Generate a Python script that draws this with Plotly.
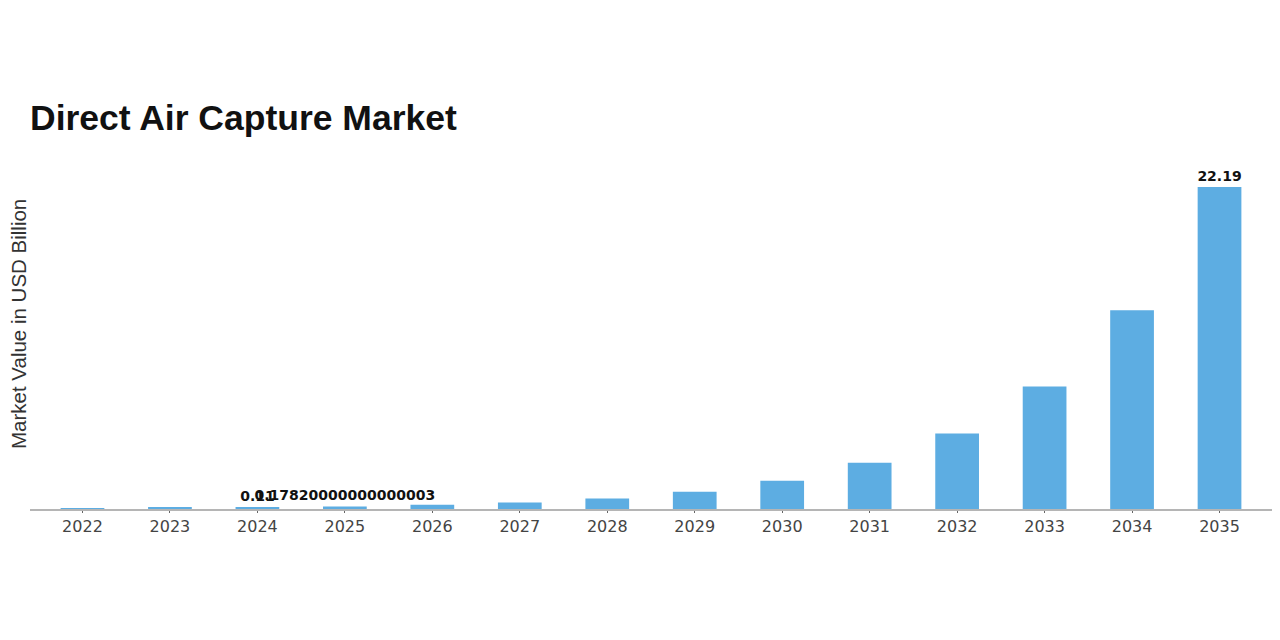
import plotly.graph_objects as go

years = ["2022", "2023", "2024", "2025", "2026", "2027", "2028",
         "2029", "2030", "2031", "2032", "2033", "2034", "2035"]
values = [0.04, 0.07, 0.11, 0.1782, 0.29, 0.45, 0.72,
          1.19, 1.95, 3.18, 5.2, 8.45, 13.7, 22.19]
labels = ["", "", "0.11", "0.17820000000000003", "", "", "",
          "", "", "", "", "", "", "22.19"]

title_text = "Direct Air Capture Market"
y_title = "Market Value in USD Billion"

# page has an 8px body margin; figure is sized to fill the rest of the window
W, H = 1272, 632
plot_l, plot_r, plot_t, plot_b = 22, 1264, 163, 501

fig = go.Figure()
fig.add_trace(go.Bar(
    x=years, y=values, text=labels,
    textposition="outside", constraintext="none", cliponaxis=False,
    textfont=dict(family="DejaVu Sans", size=14, color="#111111", weight="bold"),
    marker=dict(color="#5DADE2", line=dict(width=0)),
    width=0.5,
))

fig.update_layout(
    width=W, height=H,
    paper_bgcolor="white", plot_bgcolor="white",
    margin=dict(l=plot_l, r=W - plot_r, t=plot_t, b=H - plot_b, autoexpand=False),
    showlegend=False,
    title=dict(text="<b>" + title_text + "</b>", xref="container", yref="container",
               x=22 / W, xanchor="left", y=1 - 110 / H, yanchor="middle",
               font=dict(family="Liberation Sans, Arial", size=35.5, color="#111111")),
    xaxis=dict(type="category", range=[-0.6, 13.6], showline=True,
               linecolor="#b5b5b5", linewidth=2, ticks="outside", ticklen=2,
               tickcolor="#666666", showgrid=False, automargin=False,
               tickfont=dict(family="DejaVu Sans", size=16, color="#444444")),
    yaxis=dict(range=[0, 23.3], visible=False, showgrid=False),
    annotations=[dict(text=y_title, textangle=-90, xref="paper", yref="paper",
                      x=(10 - plot_l) / (plot_r - plot_l),
                      y=(plot_b - 316) / (plot_b - plot_t),
                      xanchor="center", yanchor="middle", showarrow=False,
                      font=dict(family="Liberation Sans, Arial", size=20.5, color="#333333"))],
)

fig.write_html("out.html")
